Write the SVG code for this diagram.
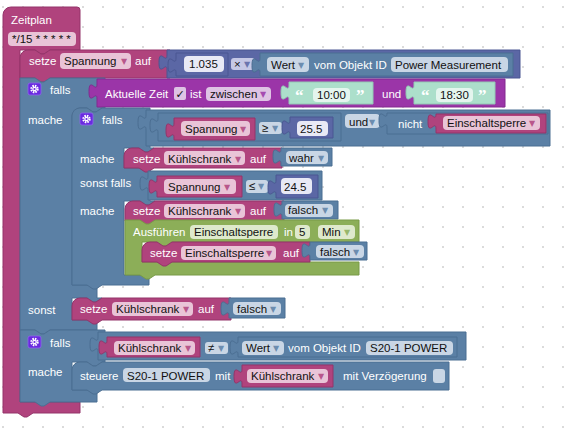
<svg xmlns="http://www.w3.org/2000/svg" width="581" height="442" viewBox="0 0 581 442">
<defs>
<pattern id="grid" width="20" height="20" patternUnits="userSpaceOnUse"><circle cx="3" cy="7" r="1" fill="#cfcfcf"/></pattern>
<g id="gear"><rect x="0" y="0" width="13" height="12" rx="2" fill="#6a2ae0" stroke="#8d64ee" stroke-width="0.8"/><circle cx="6.5" cy="6" r="3.1" fill="none" stroke="#fff" stroke-width="2.2" stroke-dasharray="1.5 0.93"/><circle cx="6.5" cy="6" r="2.2" fill="#fff"/><circle cx="6.5" cy="6" r="1.1" fill="#6a2ae0"/></g>
</defs>
<style>
.lb{font-family:"Liberation Sans",Arial,sans-serif;font-size:11.5px;fill:#fff}
.ft{font-family:"Liberation Sans",Arial,sans-serif;font-size:11.5px;fill:#111}
.ar{font-family:"DejaVu Sans",sans-serif;font-size:8px;fill-opacity:0.85}
.q{font-family:"Liberation Serif",serif;font-size:17px;fill:#fff;font-weight:bold}
.m{fill:#b0437d;stroke:#94346a;stroke-width:1}
.b{fill:#5b80a5;stroke:#4b6e92;stroke-width:1}
.p{fill:#5b67a5;stroke:#4b5792;stroke-width:1}
.v{fill:#9b35a8;stroke:#832a8f;stroke-width:1}
.g{fill:#8cae58;stroke:#789a47;stroke-width:1}
.t{fill:#acdfcb;stroke:#93c9b4;stroke-width:1}
.fm{fill:#e9c4d7}.fb{fill:#c9d6e5}.fp{fill:#c5c8e6}.fw{fill:#e8e9f5}.fv{fill:#dec3e4}.fg{fill:#dee9cc}.fx{fill:#e4f5ee}
.am{fill:#b0437d}.ab{fill:#5b80a5}.ap{fill:#5b67a5}.av{fill:#9b35a8}.ag{fill:#8cae58}
</style>
<rect width="581" height="442" fill="#fff"/>
<rect width="581" height="442" fill="url(#grid)"/>

<g id="zeitplan">
<path class="m" d="M3,15 a8,8 0 0 1 8,-8 H77 a3,3 0 0 1 3,3 V50 H50 l-6,4 -3,0 -6,-4 H20 V402 H80 V413 H33 l-6,4 -3,0 -6,-4 H3 Z"/>
<text class="lb" x="11" y="24">Zeitplan</text>
<rect class="fm" x="8" y="32" width="68" height="14" rx="4"/>
<text class="ft" x="12" y="43">*/15 * * * * *</text>
</g>

<g id="setze-spannung">
<path class="m" d="M20,58 a8,8 0 0 1 8,-8 H35 l6,4 3,0 6,-4 H170 V78 H50 l-6,4 -3,0 -6,-4 H20 Z"/>
<text class="lb" x="29" y="65">setze</text>
<rect class="fm" x="60" y="53" width="71" height="16" rx="4"/>
<text class="ft" x="64" y="65">Spannung</text><text class="ar am" x="121" y="64">▼</text>
<text class="lb" x="135" y="65">auf</text>
</g>

<g id="math-mult">
<path class="p" d="M167,50 H520 V78 H167 V70 c0,-10 -8,8 -8,-7.5 s8,2.5 8,-7.5 Z"/>
<path class="p" d="M176,53 H228 V76 H176 V73 c0,-10 -8,8 -8,-7.5 s8,2.5 8,-7.5 Z"/>
<rect class="fw" x="184" y="56" width="40" height="16" rx="4"/>
<text class="ft" x="189" y="68">1.035</text>
<rect class="fp" x="231" y="58" width="24" height="12" rx="3"/>
<text class="ft" x="234" y="68">×</text><text class="ar ap" x="244" y="67">▼</text>
<path class="b" d="M260,53 H513 V76 H260 V73 c0,-10 -8,8 -8,-7.5 s8,2.5 8,-7.5 Z"/>
<rect class="fb" x="267" y="57" width="42" height="15" rx="4"/>
<text class="ft" x="271" y="69">Wert</text><text class="ar ab" x="298" y="68">▼</text>
<text class="lb" x="314" y="69">vom Objekt ID</text>
<rect class="fb" x="391" y="57" width="117" height="15" rx="4"/>
<text class="ft" x="395" y="69">Power Measurement</text>
</g>

<g id="if-outer">
<path class="b" d="M20,78 H35 l6,4 3,0 6,-4 H105 V108 H102 l-6,4 -3,0 -6,-4 H80 a8,8 0 0 0 -8,8 V285 H97 V298 H102 l-6,4 -3,0 -6,-4 H72 V320 H97 V330 H50 l-6,4 -3,0 -6,-4 H20 Z"/>
<use href="#gear" x="28" y="83"/>
<text class="lb" x="50" y="94">falls</text>
<text class="lb" x="28" y="124">mache</text>
<text class="lb" x="28" y="314">sonst</text>
</g>

<g id="zeit-zwischen">
<path class="v" d="M97,79 H505 V107 H97 V99 c0,-10 -8,8 -8,-7.5 s8,2.5 8,-7.5 Z"/>
<text class="lb" x="105" y="98">Aktuelle Zeit</text>
<rect class="fv" x="174" y="87" width="12" height="13" rx="2"/>
<text x="175.5" y="98" font-family="DejaVu Sans,sans-serif" font-size="11" fill="#111">✓</text>
<text class="lb" x="190" y="98">ist</text>
<rect class="fv" x="206" y="87" width="65" height="14" rx="4"/>
<text class="ft" x="210" y="98">zwischen</text><text class="ar av" x="260" y="97">▼</text>
<path class="t" d="M289,82 H373 V104 H289 V100 c0,-10 -8,8 -8,-7.5 s8,2.5 8,-7.5 Z"/>
<text class="q" x="295" y="101">“</text>
<rect class="fx" x="313" y="88" width="37" height="14" rx="4"/>
<text class="ft" x="317" y="99">10:00</text>
<text class="q" x="356" y="101">”</text>
<text class="lb" x="382" y="98">und</text>
<path class="t" d="M414,82 H495 V104 H414 V100 c0,-10 -8,8 -8,-7.5 s8,2.5 8,-7.5 Z"/>
<text class="q" x="421" y="101">“</text>
<rect class="fx" x="436" y="88" width="37" height="14" rx="4"/>
<text class="ft" x="440" y="99">18:30</text>
<text class="q" x="478" y="101">”</text>
</g>

<g id="if-inner">
<path class="b" d="M72,116 a8,8 0 0 1 8,-8 H87 l6,4 3,0 6,-4 H150 V148 H154 l-6,4 -3,0 -6,-4 H124 V168 H150 V201 H155 l-6,4 -3,0 -6,-4 H124 V275 H149 V285 H102 l-6,4 -3,0 -6,-4 H72 Z"/>
<use href="#gear" x="80" y="113"/>
<text class="lb" x="102" y="124">falls</text>
<text class="lb" x="80" y="163">mache</text>
<text class="lb" x="80" y="187">sonst falls</text>
<text class="lb" x="80" y="215">mache</text>
</g>

<g id="und-cond">
<path class="b" d="M146,110 H550 V146 H146 V130 c0,-10 -8,8 -8,-7.5 s8,2.5 8,-7.5 Z"/>
<path class="b" d="M158,113 H341 V141 H158 V133 c0,-10 -8,8 -8,-7.5 s8,2.5 8,-7.5 Z"/>
<path class="m" d="M174,118 H255 V140 H174 V138 c0,-10 -8,8 -8,-7.5 s8,2.5 8,-7.5 Z"/>
<rect class="fm" x="181" y="121" width="69" height="15" rx="4"/>
<text class="ft" x="185" y="133">Spannung</text><text class="ar am" x="240" y="132">▼</text>
<rect class="fb" x="259" y="122" width="23" height="12" rx="3"/>
<text class="ft" x="262" y="132">≥</text><text class="ar ab" x="272" y="131">▼</text>
<path class="p" d="M290,117 H333 V138 H290 V135 c0,-10 -8,8 -8,-7.5 s8,2.5 8,-7.5 Z"/>
<rect class="fw" x="297" y="121" width="31" height="15" rx="4"/>
<text class="ft" x="300" y="133">25.5</text>
<rect class="fb" x="345" y="114" width="35" height="14" rx="4"/>
<text class="ft" x="349" y="126">und</text><text class="ar ab" x="369" y="125">▼</text>
<path class="b" d="M387,113 H548 V134 H387 V128 c0,-10 -8,8 -8,-7.5 s8,2.5 8,-7.5 Z"/>
<text class="lb" x="398" y="128">nicht</text>
<path class="m" d="M436,114 H546 V133 H436 V129 c0,-10 -8,8 -8,-7.5 s8,2.5 8,-7.5 Z"/>
<rect class="fm" x="443" y="116" width="97" height="14" rx="4"/>
<text class="ft" x="447" y="127">Einschaltsperre</text><text class="ar am" x="529" y="126">▼</text>
</g>

<g id="setze-kuehl-wahr">
<path class="m" d="M124,156 a8,8 0 0 1 8,-8 H139 l6,4 3,0 6,-4 H282 V168 H154 l-6,4 -3,0 -6,-4 H124 Z"/>
<text class="lb" x="133" y="163">setze</text>
<rect class="fm" x="164" y="151" width="81" height="14" rx="4"/>
<text class="ft" x="168" y="163">Kühlschrank</text><text class="ar am" x="235" y="162">▼</text>
<text class="lb" x="250" y="163">auf</text>
<path class="b" d="M281,148 H332 V166 H281 V164 c0,-10 -8,8 -8,-7.5 s8,2.5 8,-7.5 Z"/>
<rect class="fb" x="286" y="151" width="42" height="13" rx="4"/>
<text class="ft" x="289" y="162">wahr</text><text class="ar ab" x="318" y="161">▼</text>
</g>

<g id="cond-kleiner">
<path class="b" d="M148,171 H322 V200 H148 V191 c0,-10 -8,8 -8,-7.5 s8,2.5 8,-7.5 Z"/>
<path class="m" d="M157,176 H242 V197 H157 V194 c0,-10 -8,8 -8,-7.5 s8,2.5 8,-7.5 Z"/>
<rect class="fm" x="164" y="179" width="72" height="15" rx="4"/>
<text class="ft" x="168" y="191">Spannung</text><text class="ar am" x="224" y="190">▼</text>
<rect class="fb" x="246" y="180" width="22" height="13" rx="3"/>
<text class="ft" x="249" y="190">≤</text><text class="ar ab" x="258" y="189">▼</text>
<path class="p" d="M276,175 H318 V198 H276 V195 c0,-10 -8,8 -8,-7.5 s8,2.5 8,-7.5 Z"/>
<rect class="fw" x="281" y="178" width="31" height="16" rx="4"/>
<text class="ft" x="284" y="191">24.5</text>
</g>

<g id="setze-kuehl-falsch">
<path class="m" d="M125,209 a8,8 0 0 1 8,-8 H140 l6,4 3,0 6,-4 H284 V221 H155 l-6,4 -3,0 -6,-4 H125 Z"/>
<text class="lb" x="133" y="215">setze</text>
<rect class="fm" x="164" y="204" width="81" height="14" rx="4"/>
<text class="ft" x="168" y="215">Kühlschrank</text><text class="ar am" x="235" y="214">▼</text>
<text class="lb" x="250" y="215">auf</text>
<path class="b" d="M282,201 H338 V219 H282 V217 c0,-10 -8,8 -8,-7.5 s8,2.5 8,-7.5 Z"/>
<rect class="fb" x="285" y="204" width="48" height="13" rx="4"/>
<text class="ft" x="288" y="214">falsch</text><text class="ar ab" x="322" y="213">▼</text>
</g>

<g id="ausfuehren">
<path class="g" d="M125,220 H140 l6,4 3,0 6,-4 H359 V242 H172 l-6,4 -3,0 -6,-4 H142 V262 H359 V275 H155 l-6,4 -3,0 -6,-4 H125 Z"/>
<text class="lb" x="133" y="236">Ausführen</text>
<rect class="fg" x="190" y="225" width="88" height="14" rx="4"/>
<text class="ft" x="194" y="236">Einschaltsperre</text>
<text class="lb" x="284" y="236">in</text>
<rect class="fg" x="295" y="225" width="15" height="14" rx="4"/>
<text class="ft" x="299" y="236">5</text>
<rect class="fg" x="318" y="225" width="37" height="14" rx="4"/>
<text class="ft" x="322" y="236">Min</text><text class="ar ag" x="344" y="235">▼</text>
</g>

<g id="setze-sperre-falsch">
<path class="m" d="M142,250 a8,8 0 0 1 8,-8 H157 l6,4 3,0 6,-4 H310 V262 H172 l-6,4 -3,0 -6,-4 H142 Z"/>
<text class="lb" x="150" y="257">setze</text>
<rect class="fm" x="181" y="246" width="95" height="14" rx="4"/>
<text class="ft" x="185" y="257">Einschaltsperre</text><text class="ar am" x="266" y="256">▼</text>
<text class="lb" x="283" y="257">auf</text>
<path class="b" d="M310,242 H367 V260 H310 V258 c0,-10 -8,8 -8,-7.5 s8,2.5 8,-7.5 Z"/>
<rect class="fb" x="316" y="245" width="48" height="13" rx="4"/>
<text class="ft" x="320" y="256">falsch</text><text class="ar ab" x="353" y="255">▼</text>
</g>

<g id="setze-kuehl-sonst">
<path class="m" d="M72,306 a8,8 0 0 1 8,-8 H87 l6,4 3,0 6,-4 H231 V320 H102 l-6,4 -3,0 -6,-4 H72 Z"/>
<text class="lb" x="80" y="313">setze</text>
<rect class="fm" x="112" y="302" width="81" height="14" rx="4"/>
<text class="ft" x="116" y="313">Kühlschrank</text><text class="ar am" x="183" y="312">▼</text>
<text class="lb" x="198" y="313">auf</text>
<path class="b" d="M229,298 H285 V318 H229 V316 c0,-10 -8,8 -8,-7.5 s8,2.5 8,-7.5 Z"/>
<rect class="fb" x="233" y="302" width="48" height="13" rx="4"/>
<text class="ft" x="237" y="313">falsch</text><text class="ar ab" x="270" y="312">▼</text>
</g>

<g id="if-second">
<path class="b" d="M20,330 H35 l6,4 3,0 6,-4 H105 V362 H102 l-6,4 -3,0 -6,-4 H72 V390 H97 V402 H50 l-6,4 -3,0 -6,-4 H20 Z"/>
<use href="#gear" x="28" y="336"/>
<text class="lb" x="50" y="347">falls</text>
<text class="lb" x="28" y="376">mache</text>
</g>

<g id="cond-ungleich">
<path class="b" d="M98,332 H466 V360 H98 V352 c0,-10 -8,8 -8,-7.5 s8,2.5 8,-7.5 Z"/>
<path class="m" d="M107,337 H200 V357 H107 V355 c0,-10 -8,8 -8,-7.5 s8,2.5 8,-7.5 Z"/>
<rect class="fm" x="114" y="341" width="81" height="14" rx="4"/>
<text class="ft" x="118" y="352">Kühlschrank</text><text class="ar am" x="185" y="351">▼</text>
<rect class="fb" x="205" y="342" width="23" height="12" rx="3"/>
<text class="ft" x="208" y="352">≠</text><text class="ar ab" x="218" y="351">▼</text>
<path class="b" d="M238,337 H457 V357 H238 V355 c0,-10 -8,8 -8,-7.5 s8,2.5 8,-7.5 Z"/>
<rect class="fb" x="242" y="341" width="42" height="14" rx="4"/>
<text class="ft" x="246" y="352">Wert</text><text class="ar ab" x="273" y="351">▼</text>
<text class="lb" x="288" y="352">vom Objekt ID</text>
<rect class="fb" x="366" y="341" width="87" height="14" rx="4"/>
<text class="ft" x="370" y="352">S20-1 POWER</text>
</g>

<g id="steuere">
<path class="b" d="M72,370 a8,8 0 0 1 8,-8 H87 l6,4 3,0 6,-4 H449 V390 H102 l-6,4 -3,0 -6,-4 H72 Z"/>
<text class="lb" x="80" y="380">steuere</text>
<rect class="fb" x="123" y="368" width="87" height="14" rx="4"/>
<text class="ft" x="127" y="380">S20-1 POWER</text>
<text class="lb" x="215" y="380">mit</text>
<path class="m" d="M242,365 H333 V387 H242 V384 c0,-10 -8,8 -8,-7.5 s8,2.5 8,-7.5 Z"/>
<rect class="fm" x="247" y="369" width="81" height="14" rx="4"/>
<text class="ft" x="251" y="380">Kühlschrank</text><text class="ar am" x="318" y="379">▼</text>
<text class="lb" x="343" y="380">mit Verzögerung</text>
<rect class="fb" x="433" y="369" width="12" height="14" rx="3"/>
</g>
</svg>
